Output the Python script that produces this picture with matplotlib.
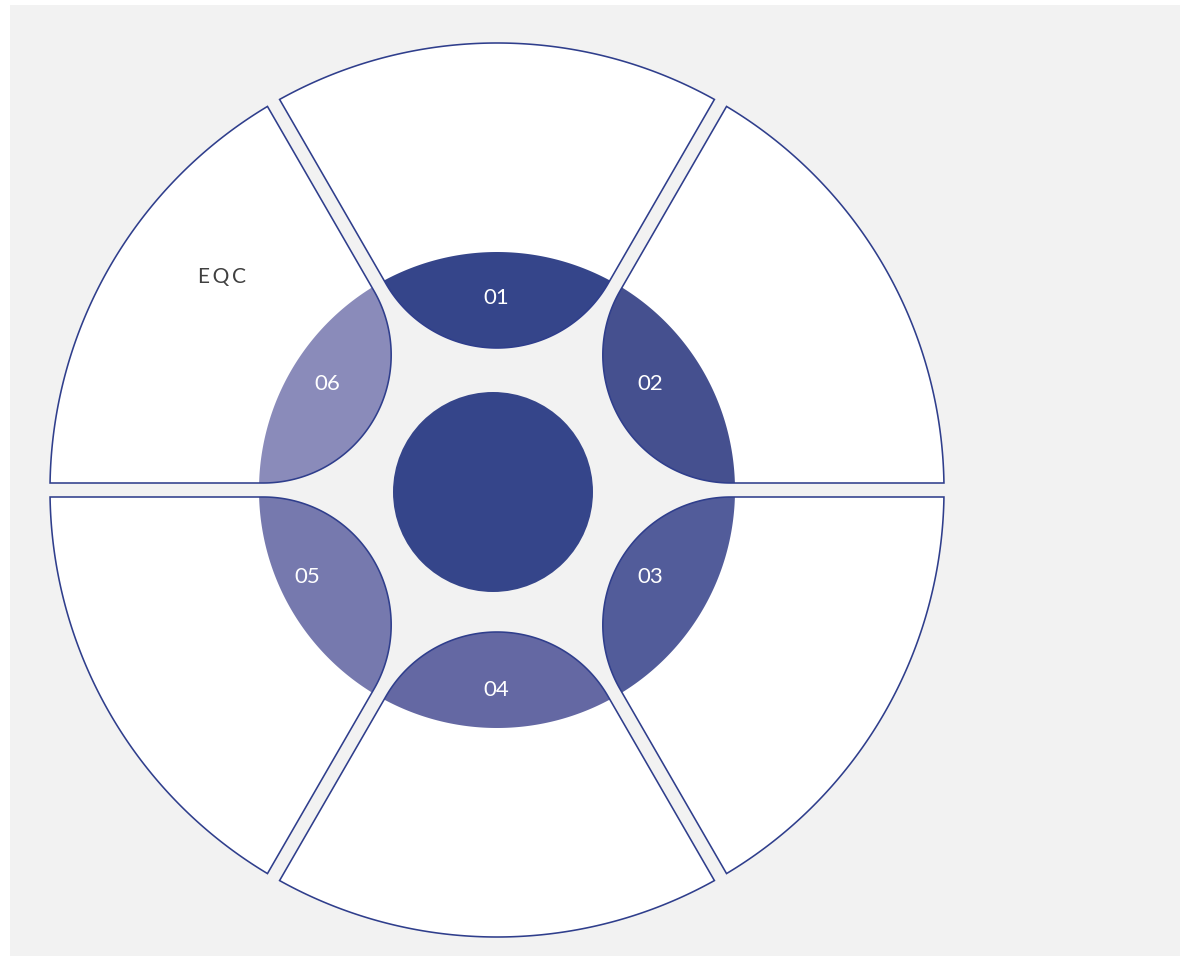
import numpy as np
import matplotlib
matplotlib.use("Agg")
import matplotlib.pyplot as plt
from matplotlib.patches import Polygon, Rectangle, Circle

# ---- data ----
labels = ["01", "02", "03", "04", "05", "06"]
seg_angles = [90, 30, -30, -90, -150, 150]          # segment bisector angles (deg)
seg_colors = ["#35458A", "#45508F", "#525C9A", "#6468A3", "#7679AE", "#8A8BBA"]
side_text = "EQC"

# ---- layout (pixel units, y up) ----
W, H = 1184, 956
CX, CY = 497, 956 - 490
R_OUT = 447
R_MID = 238
GAP = 7
D_FIL = 270
RHO = D_FIL * np.sin(np.radians(30)) - GAP
label_pix = [(496, 296), (650, 382), (650, 575), (496, 688), (307, 575), (327, 382)]
TEXT_DY = 2
OUTLINE = "#2F3E8C"
FONT = ["Lato", "Noto Sans", "DejaVu Sans"]


def segment_points(theta_c, R, n=120):
    h = np.radians(30)
    delta = np.arcsin(GAP / R)
    a = np.linspace(-(h - delta), h - delta, n)
    pts = [np.column_stack([R * np.cos(a), R * np.sin(a)])]
    u_up = np.array([np.cos(h), np.sin(h)])
    n_up = np.array([np.sin(h), -np.cos(h)])
    t_tan = D_FIL * np.cos(h)
    T_up = t_tan * u_up + GAP * n_up
    pts.append(T_up[None, :])
    phi = np.linspace(np.radians(120), np.radians(240), n)
    pts.append(np.column_stack([D_FIL + RHO * np.cos(phi), RHO * np.sin(phi)]))
    P = np.vstack(pts)
    th = np.radians(theta_c)
    rot = np.array([[np.cos(th), -np.sin(th)], [np.sin(th), np.cos(th)]])
    P = P @ rot.T
    P[:, 0] += CX
    P[:, 1] += CY
    return P


fig = plt.figure(figsize=(W / 100, H / 100), dpi=100, facecolor="white")
ax = fig.add_axes([0, 0, 1, 1])
ax.set_xlim(0, W)
ax.set_ylim(0, H)
ax.axis("off")

ax.add_patch(Rectangle((10, 0), 1170, 951, facecolor="#F2F2F2", edgecolor="none", zorder=0))

for lab, ang, col, (lx, ly) in zip(labels, seg_angles, seg_colors, label_pix):
    outer = segment_points(ang, R_OUT)
    ax.add_patch(Polygon(outer, closed=True, facecolor="white", edgecolor="none", zorder=1))
    inner = segment_points(ang, R_MID)
    ax.add_patch(Polygon(inner, closed=True, facecolor=col, edgecolor="none", zorder=2))
    ax.add_patch(Polygon(outer, closed=True, facecolor="none", edgecolor=OUTLINE,
                         linewidth=1.15, zorder=3))
    ax.text(lx, H - ly - TEXT_DY, lab, color="white", fontsize=16, family=FONT,
            ha="center", va="center", zorder=5)

ax.add_patch(Circle((493, H - 492), 100, facecolor=seg_colors[0], edgecolor="none", zorder=4))

ax.text(222, H - 275 - TEXT_DY, "\u2009".join(side_text), color="#404040", fontsize=15,
        family=FONT, ha="center", va="center", zorder=5)

fig.savefig("out.png", dpi=100, facecolor="white")
